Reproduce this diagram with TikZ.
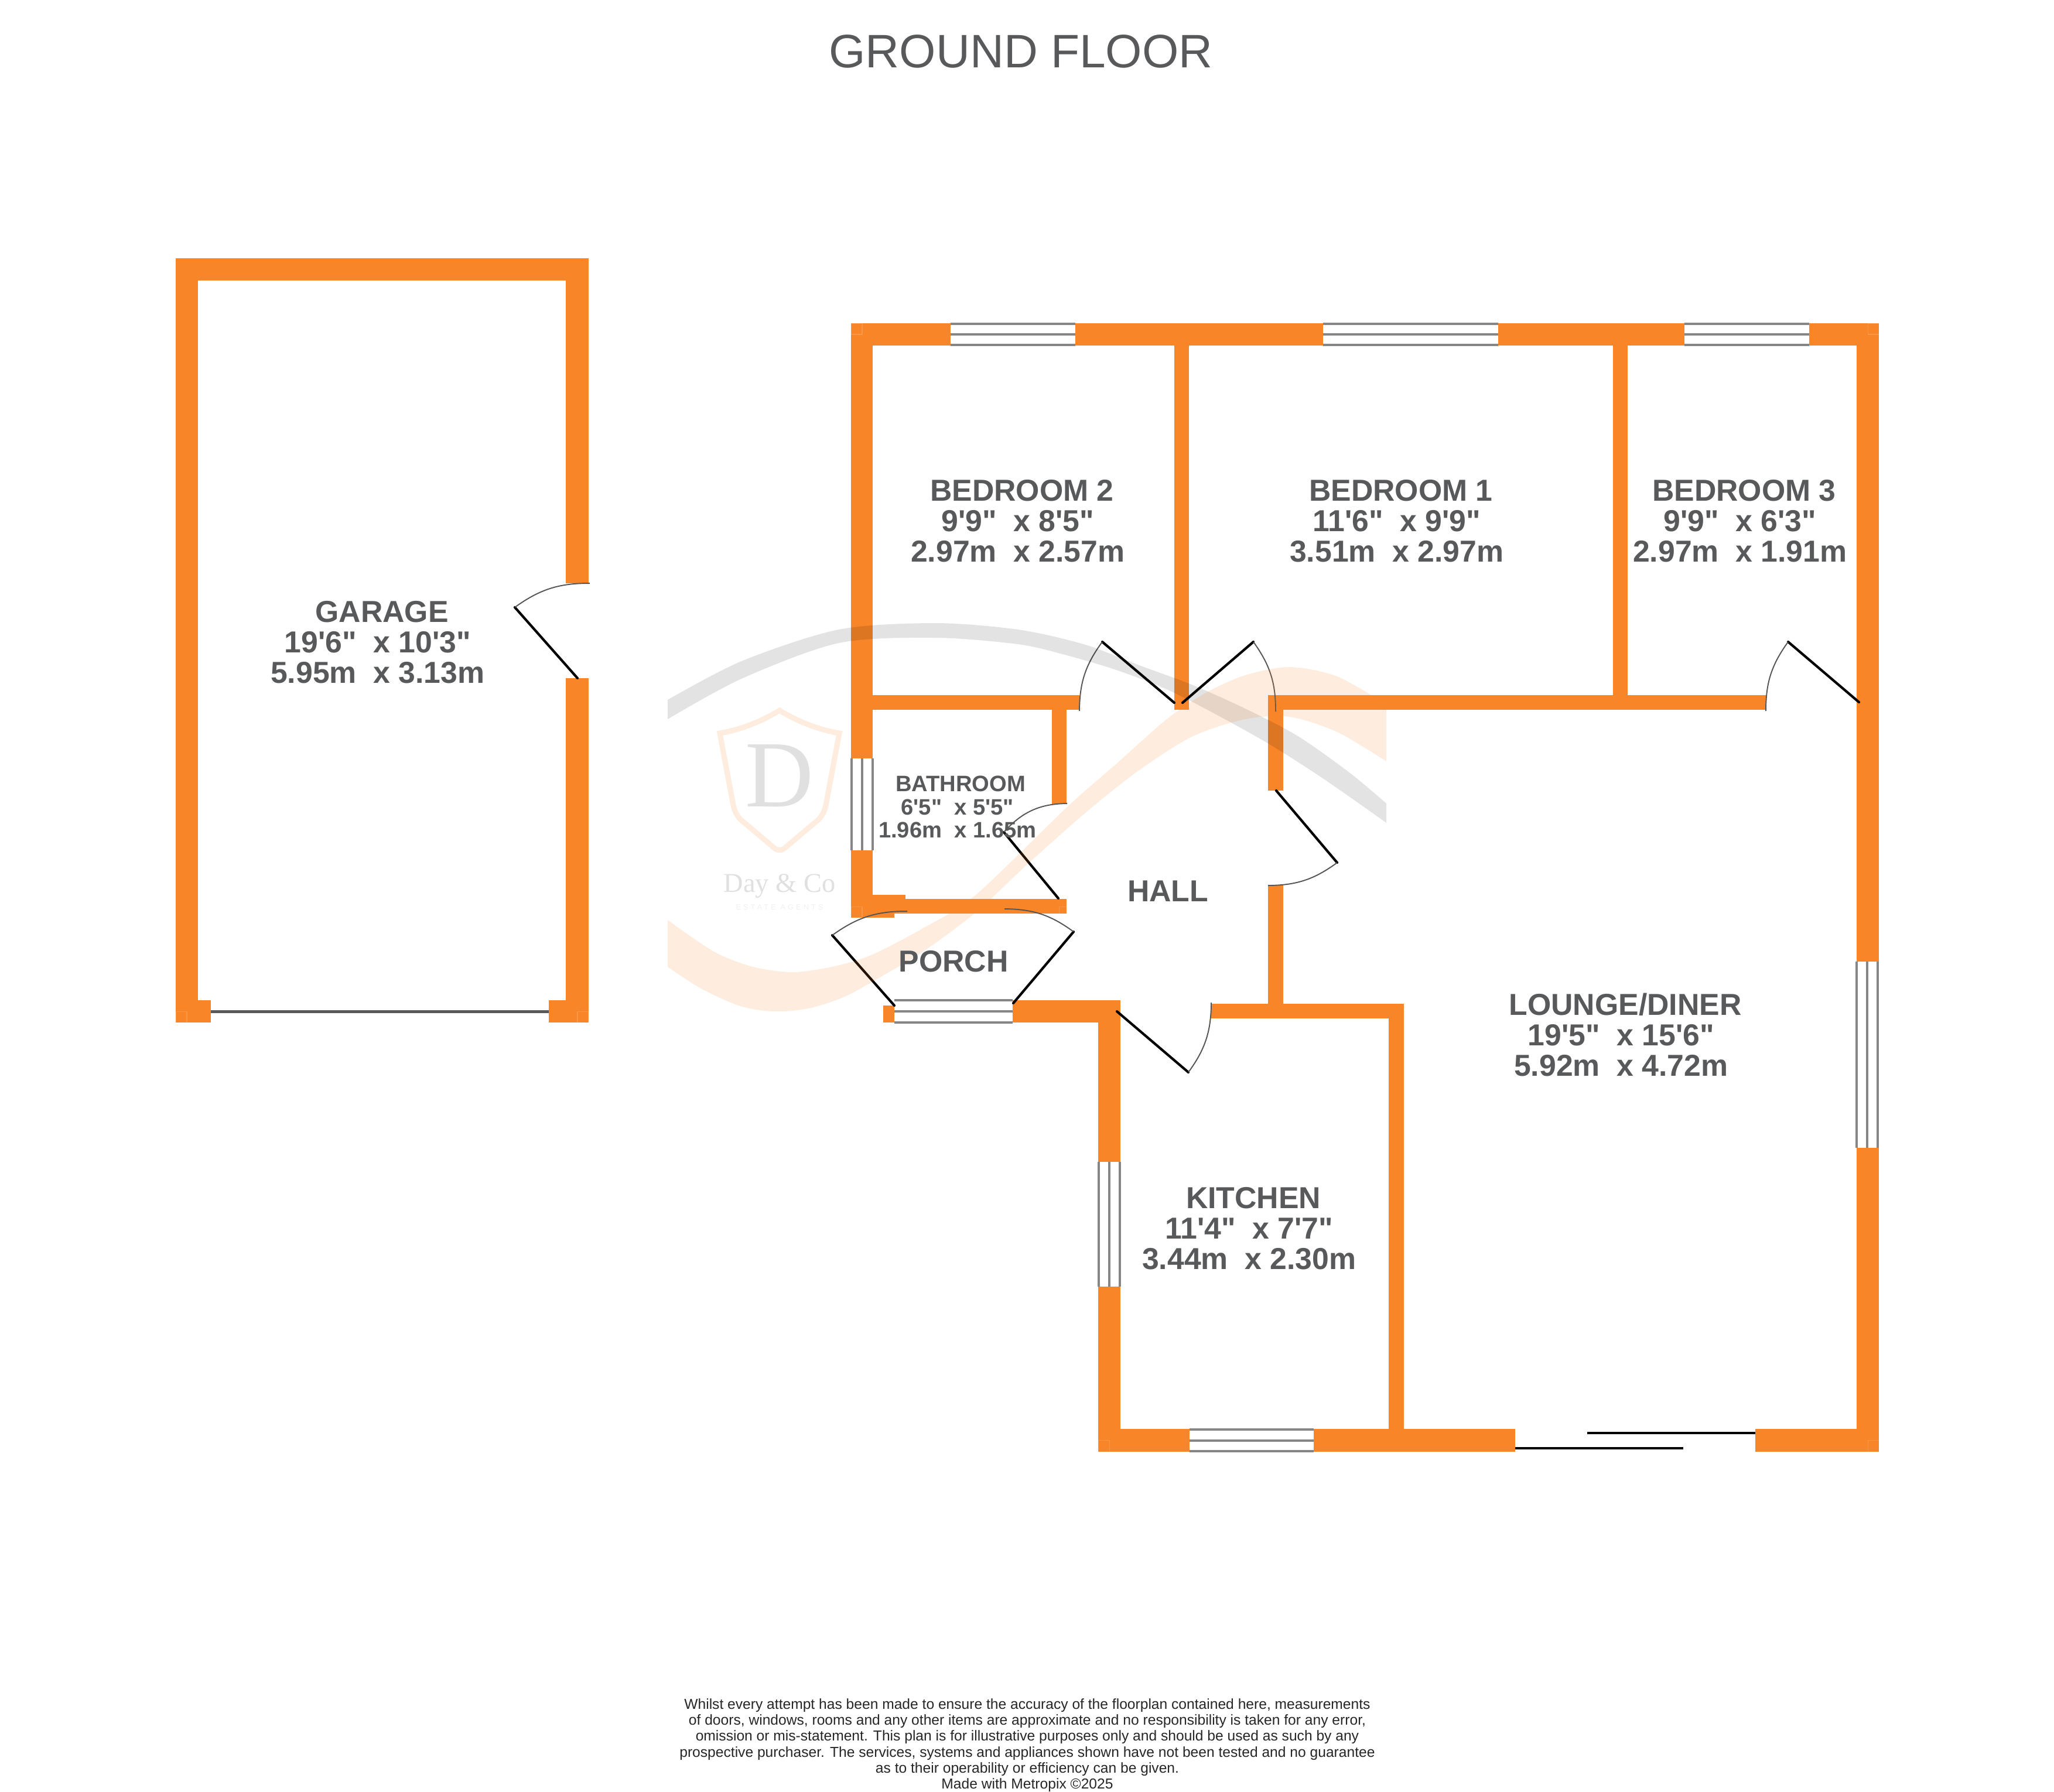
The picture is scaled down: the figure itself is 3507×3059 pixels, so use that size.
\documentclass[tikz,border=0pt]{standalone}
\usepackage{fontspec}
\usepackage{tikz}
\usetikzlibrary{positioning}
\usepackage{xcolor}
\newfontfamily\planfont{Liberation Sans}
\newfontfamily\wmfont{Liberation Serif}
\newfontfamily\wmspaced[LetterSpace=33]{Liberation Sans}
\definecolor{wallorange}{HTML}{F88527}
\definecolor{labelgrey}{HTML}{58595B}
\definecolor{wingrey}{HTML}{868686}
\definecolor{swinggrey}{HTML}{555555}
\tikzstyle{wall}=[fill=wallorange,draw=none]
\tikzstyle{joint}=[draw=white,draw opacity=0.15,line width=0.3pt]
\tikzstyle{window}=[draw=wingrey,line width=1.15pt]
\tikzstyle{leaf}=[draw=black,line width=1.2pt,line cap=round]
\tikzstyle{swing}=[draw=swinggrey,line width=0.55pt]
\tikzstyle{slider}=[draw=black,line width=1.2pt]
\tikzstyle{room}=[text=labelgrey,align=center,inner sep=0,font=\planfont\bfseries\fontsize{14.72}{14.8}\selectfont]
\tikzstyle{smallroom}=[room,font=\planfont\bfseries\fontsize{10.85}{11.3}\selectfont]
\tikzstyle{wmgrey}=[fill=black,fill opacity=0.11,draw=none]
\tikzstyle{wmorange}=[fill=wallorange,fill opacity=0.15,draw=none]
\newcommand{\dims}[5]{#1\\\mbox{#2\ \ x #3\ }\\\mbox{#4\ \ x #5\ }}

\begin{document}
\begin{tikzpicture}[x=0.01cm,y=-0.01cm]

	\useasboundingbox (0,0) rectangle (3507,3059);

	% garage
	\fill[wall] (300,441) rectangle (1005,479);
	\fill[wall] (300,441) rectangle (338,1746);
	\fill[wall] (300,1708) rectangle (360,1746);
	\fill[wall] (966,441) rectangle (1005,996);
	\fill[wall] (966,1158) rectangle (1005,1746);
	\fill[wall] (937,1708) rectangle (1005,1746);
	\draw[draw=labelgrey,line width=1.4pt] (360,1727) -- (937,1727);

	% outer walls of the bungalow
	\fill[wall] (1453,552) rectangle (1623,590);
	\fill[wall] (1836,552) rectangle (2259,590);
	\fill[wall] (2558,552) rectangle (2876,590);
	\fill[wall] (3089,552) rectangle (3208,590);
	\fill[wall] (1453,552) rectangle (1490,1295);
	\fill[wall] (1453,1452) rectangle (1490,1567);
	\fill[wall] (1453,1528) rectangle (1546,1560);
	\fill[wall] (1453,1560) rectangle (1527,1567);
	\fill[wall] (3170,552) rectangle (3208,1642);
	\fill[wall] (3170,1960) rectangle (3208,2479);
	\fill[wall] (2997,2440) rectangle (3208,2479);
	\fill[wall] (1875,2440) rectangle (2031,2479);
	\fill[wall] (2243,2440) rectangle (2587,2479);
	\fill[wall] (1875,1708) rectangle (1913,1984);
	\fill[wall] (1875,2197) rectangle (1913,2479);
	\fill[wall] (1729,1708) rectangle (1913,1746);
	\fill[wall] (1508,1717) rectangle (1527,1746);

	% inner walls
	\fill[wall] (2005,590) rectangle (2030,1212);
	\fill[wall] (2754,590) rectangle (2779,1212);
	\fill[wall] (1490,1187) rectangle (1843,1212);
	\fill[wall] (1796,1212) rectangle (1821,1373);
	\fill[wall] (1546,1535) rectangle (1821,1560);
	\fill[wall] (2165,1187) rectangle (3015,1212);
	\fill[wall] (2165,1187) rectangle (2191,1350);
	\fill[wall] (2165,1512) rectangle (2191,1739);
	\fill[wall] (2068,1714) rectangle (2397,1739);
	\fill[wall] (2371,1714) rectangle (2397,2479);

	% faint squares in the corners
	\draw[joint] (1453,552) rectangle (1472,571);
	\draw[joint] (3189,552) rectangle (3208,571);
	\draw[joint] (1875,2459) rectangle (1894,2479);
	\draw[joint] (3189,2459) rectangle (3208,2479);
	\draw[joint] (300,1727) rectangle (319,1746);
	\draw[joint] (986,1727) rectangle (1005,1746);
	\draw[joint] (1453,1548) rectangle (1472,1567);
	\draw[joint] (1808,1548) rectangle (1821,1560);

	% windows
	\foreach \y in {553,571,589}
		\draw[window] (1623,\y) -- (1836,\y);
	\foreach \y in {553,571,589}
		\draw[window] (2259,\y) -- (2558,\y);
	\foreach \y in {553,571,589}
		\draw[window] (2876,\y) -- (3089,\y);
	\foreach \x in {1454,1472,1490}
		\draw[window] (\x,1295) -- (\x,1452);
	\foreach \y in {1708,1727,1746}
		\draw[window] (1527,\y) -- (1729,\y);
	\foreach \x in {3170,3188,3206}
		\draw[window] (\x,1642) -- (\x,1960);
	\foreach \x in {1876,1894,1912}
		\draw[window] (\x,1984) -- (\x,2197);
	\foreach \y in {2441,2460,2478}
		\draw[window] (2031,\y) -- (2243,\y);

	% doors
	\draw[leaf] (986,1158) -- (879,1037);
	\draw[swing] (879,1037) to[bend left=18] (1007,996);
	\draw[leaf] (2005,1200) -- (1882,1096);
	\draw[swing] (1882,1096) to[bend right=18] (1843,1214);
	\draw[leaf] (2019,1200) -- (2140,1096);
	\draw[swing] (2140,1096) to[bend left=18] (2178,1215);
	\draw[leaf] (3174,1199) -- (3053,1096);
	\draw[swing] (3053,1096) to[bend right=18] (3015,1214);
	\draw[leaf] (1807,1534) -- (1714,1421);
	\draw[swing] (1714,1421) to[bend left=24] (1822,1372);
	\draw[leaf] (2179,1350) -- (2283,1473);
	\draw[swing] (2283,1473) to[bend left=18] (2165,1512);
	\draw[leaf] (1527,1717) -- (1421,1597);
	\draw[swing] (1421,1597) to[bend left=18] (1549,1556);
	\draw[leaf] (1730,1713) -- (1833,1591);
	\draw[swing] (1833,1591) to[bend right=18] (1715,1552);
	\draw[leaf] (1907,1727) -- (2029,1831);
	\draw[swing] (2029,1831) to[bend right=18] (2068,1712);

	% sliding door of the lounge
	\draw[slider] (2587,2473) -- (2874,2473);
	\draw[slider] (2710,2447) -- (2997,2447);

	% watermark
	\fill[wmgrey] plot[smooth] coordinates {(1140,1195) (1266,1129) (1432,1075) (1597,1064) (1738,1075) (1850,1100) (1948,1137) (2037,1170) (2126,1210) (2216,1257) (2305,1320) (2367,1372)}
		-- plot[smooth] coordinates {(2367,1405) (2260,1330) (2171,1273) (2082,1223) (1992,1177) (1903,1143) (1814,1117) (1738,1100) (1597,1089) (1432,1098) (1266,1159) (1140,1228)}
		-- cycle;
	\fill[wmorange] plot[smooth] coordinates {(1140,1571) (1219,1625) (1286,1651) (1353,1660) (1420,1651) (1487,1631) (1576,1585) (1666,1528) (1823,1377) (1903,1307) (1992,1228) (2059,1183) (2126,1153) (2202,1139) (2283,1155) (2367,1203)}
		-- plot[smooth] coordinates {(2367,1300) (2283,1250) (2202,1224) (2126,1228) (2037,1257) (1948,1313) (1859,1383) (1755,1475) (1666,1558) (1576,1625) (1509,1665) (1442,1702) (1380,1722) (1322,1727) (1264,1718) (1197,1688) (1140,1651)}
		-- cycle;
	\draw[draw=wallorange,opacity=0.15,line width=2.6pt,line join=miter] (1331,1213) .. controls (1300,1232) and (1265,1246) .. (1229,1252)
		-- (1252,1375) .. controls (1254,1385) and (1258,1392) .. (1264,1399)
		-- (1322,1448) .. controls (1328,1453) and (1334,1453) .. (1340,1448)
		-- (1398,1399) .. controls (1404,1392) and (1408,1385) .. (1410,1375)
		-- (1433,1252) .. controls (1397,1246) and (1362,1232) .. (1331,1213) -- cycle;
	\node[inner sep=0,text=black,text opacity=0.12,font=\wmfont\fontsize{46}{46}\selectfont] (wmd) at (1331,1325) {D};
	\node[anchor=base,inner sep=0,text=black,text opacity=0.12,font=\wmfont\fontsize{13.2}{13.2}\selectfont] (wmname) at (1331,1523) {Day \& Co};
	\node[anchor=base,inner sep=0,text=black,text opacity=0.06,font=\wmspaced\fontsize{3.6}{4}\selectfont] (wmsub) at (1331,1553) {ESTATE AGENTS};

	% labels
	\node[text=labelgrey,inner sep=0,font=\planfont\fontsize{22.8}{23}\selectfont] (title) at (1743,88) {GROUND FLOOR};
	\node[room] (garage) at (652,1097) {\dims{GARAGE}{19'6"}{10'3"}{5.95m}{3.13m}};
	\node[room] (bed2) at (1745,890) {\dims{BEDROOM 2}{9'9"}{8'5"}{2.97m}{2.57m}};
	\node[room] (bed1) at (2392,890) {\dims{BEDROOM 1}{11'6"}{9'9"}{3.51m}{2.97m}};
	\node[room] (bed3) at (2978,890) {\dims{BEDROOM 3}{9'9"}{6'3"}{2.97m}{1.91m}};
	\node[smallroom] (bath) at (1640,1378) {\dims{BATHROOM}{6'5"}{5'5"}{1.96m}{1.65m}};
	\node[room] (hall) at (1994,1522) {HALL};
	\node[room] (porch) at (1628,1642) {PORCH};
	\node[room] (lounge) at (2775,1767) {\dims{LOUNGE/DINER}{19'5"}{15'6"}{5.92m}{4.72m}};
	\node[room] (kitchen) at (2140,2098) {\dims{KITCHEN}{11'4"}{7'7"}{3.44m}{2.30m}};

	\node[align=center,inner sep=0,text=black!85,font=\planfont\fontsize{7}{7.74}\selectfont] (small) at (1754,2980)
		{Whilst every attempt has been made to ensure the accuracy of the floorplan contained here, measurements\\
		of doors, windows, rooms and any other items are approximate and no responsibility is taken for any error,\\
		omission or mis-statement. This plan is for illustrative purposes only and should be used as such by any\\
		prospective purchaser. The services, systems and appliances shown have not been tested and no guarantee\\
		as to their operability or efficiency can be given.\\
		Made with Metropix \textcopyright2025};

\end{tikzpicture}
\end{document}
